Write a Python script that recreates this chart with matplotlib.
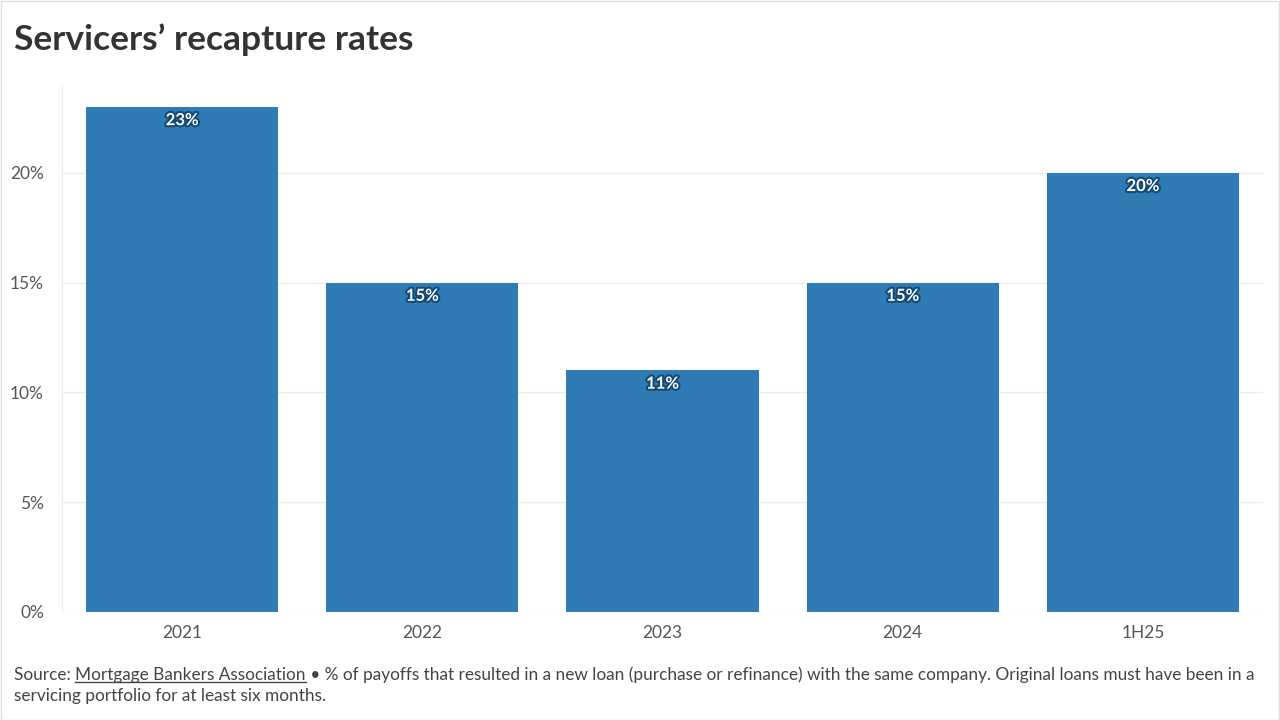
import matplotlib
matplotlib.use("Agg")
import matplotlib.pyplot as plt
import matplotlib.patheffects as pe
from matplotlib.lines import Line2D

categories = ["2021", "2022", "2023", "2024", "1H25"]
values = [23, 15, 11, 15, 20]
yticks = [0, 5, 10, 15, 20]
ytick_labels = ["0%", "5%", "10%", "15%", "20%"]
title = "Servicers\u2019 recapture rates"
source_link = "Mortgage Bankers Association"
note_line1 = " \u2022 % of payoffs that resulted in a new loan (purchase or refinance) with the same company. Original loans must have been in a"
note_line2 = "servicing portfolio for at least six months."

plt.rcParams['font.family'] = ['Lato', 'DejaVu Sans']
W, H = 1280, 720
fig = plt.figure(figsize=(12.8, 7.2), dpi=100)
fig.patch.set_facecolor("white")

ax = fig.add_axes([62 / W, 1 - 612 / H, (1263 - 62) / W, (612 - 85) / H])
bar_color = "#2f7bb5"
x = list(range(len(categories)))
bars = ax.bar(x, values, width=0.8, color=bar_color, zorder=3)
ax.set_xlim(-0.5, len(categories) - 0.5)
ax.set_ylim(0, 24)
ax.set_yticks(yticks)
ax.set_yticklabels(ytick_labels)
ax.set_xticks(x)
ax.set_xticklabels(categories)
ax.grid(axis="y", color="#ececec", linewidth=1, zorder=0)
for s in ["top", "right", "bottom"]:
    ax.spines[s].set_visible(False)
ax.spines["left"].set_color("#ececec")
ax.tick_params(axis="both", length=0, labelsize=12.5, labelcolor="#555555")
ax.tick_params(axis="y", pad=13)
ax.tick_params(axis="x", pad=9)

for xi, v in zip(x, values):
    ax.annotate(f"{v}%", (xi, v), xytext=(0, -9.5), textcoords="offset points",
                ha="center", va="center", fontsize=12, fontweight="bold", color="white",
                path_effects=[pe.withStroke(linewidth=3, foreground="#164a73")], zorder=5)

fig.text(14 / W, 1 - 40 / H, title, fontsize=25.5, fontweight="bold", color="#333333", va="center")

# caption
fig.canvas.draw()
r = fig.canvas.get_renderer()
fs = 12.4
y1 = 1 - 675 / H
t0 = fig.text(14 / W, y1, "Source: ", fontsize=fs, color="#444444", va="center")
bb0 = t0.get_window_extent(r)
t1 = fig.text(bb0.x1 / W, y1, source_link, fontsize=fs, color="#444444", va="center")
bb1 = t1.get_window_extent(r)
fig.add_artist(Line2D([bb1.x0 / W, bb1.x1 / W], [(bb1.y0 + 1) / H, (bb1.y0 + 1) / H],
                      transform=fig.transFigure, color="#444444", linewidth=1))
fig.text(bb1.x1 / W, y1, note_line1, fontsize=fs, color="#444444", va="center")
fig.text(14 / W, 1 - 696 / H, note_line2, fontsize=fs, color="#444444", va="center")

# light border
fig.add_artist(plt.Rectangle((0.5 / W, 0.5 / H), 1 - 1.5 / W, 1 - 1.5 / H, transform=fig.transFigure,
                             fill=False, edgecolor="#dddddd", linewidth=1))

fig.savefig("out.png", dpi=100)
